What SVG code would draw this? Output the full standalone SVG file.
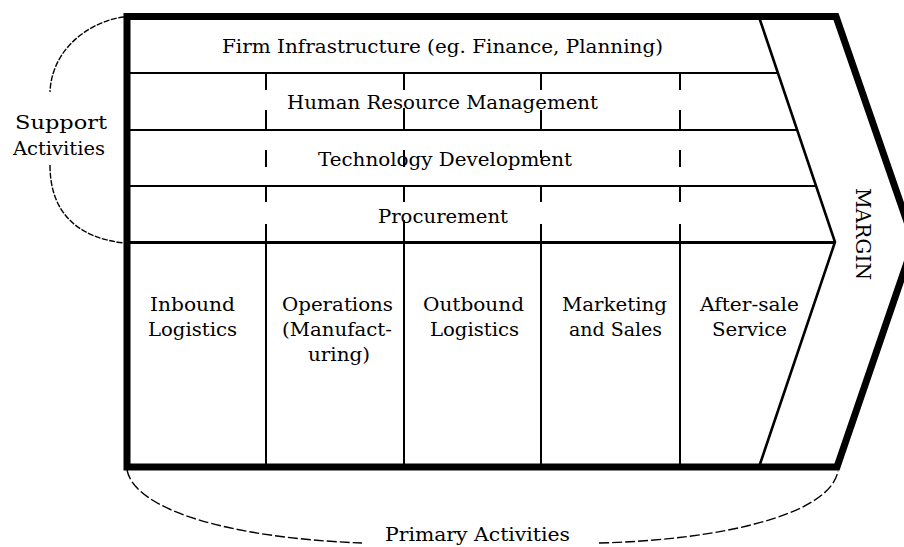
<svg xmlns="http://www.w3.org/2000/svg" width="904" height="547" viewBox="0 0 904 547">
<style>
  .t { font-family: "DejaVu Serif", "Liberation Serif", serif; font-size: 19px; fill: #000; }
  .thin { stroke: #000; stroke-width: 2; fill: none; }
  .dash { stroke: #000; stroke-width: 2; fill: none; }
  .bracket { stroke: #000; stroke-width: 1.4; fill: none; }
</style>
<rect x="0" y="0" width="904" height="547" fill="#fff"/>

<g id="support-firm-infrastructure">
  <text class="t" x="222" y="53" textLength="441" lengthAdjust="spacingAndGlyphs">Firm Infrastructure (eg. Finance, Planning)</text>
  <line class="thin" x1="127" y1="73" x2="778" y2="73"/>
</g>
<g id="support-hrm">
  <text class="t" x="287" y="109" textLength="311" lengthAdjust="spacingAndGlyphs">Human Resource Management</text>
  <line class="thin" x1="127" y1="130" x2="797" y2="130"/>
</g>
<g id="support-technology">
  <text class="t" x="318" y="166" textLength="254" lengthAdjust="spacingAndGlyphs">Technology Development</text>
  <line class="thin" x1="127" y1="186" x2="816" y2="186"/>
</g>
<g id="support-procurement">
  <text class="t" x="378" y="223" textLength="130" lengthAdjust="spacingAndGlyphs">Procurement</text>
  <line x1="127" y1="242.5" x2="835" y2="242.5" stroke="#000" stroke-width="3"/>
</g>

<g id="support-dividers">
  <path class="dash" d="M266,73V90M266,110V130M266,150V167M266,186V202M266,224V242
                        M404,73V90M404,108V130M404,150V167M404,186V202M404,220V242
                        M541,73V90M541,110V130M541,150V158M541,186V202M541,224V242
                        M680,73V90M680,110V130M680,150V167M680,186V202M680,224V242"/>
</g>

<g id="primary-inbound">
  <text class="t" x="150" y="311" textLength="85" lengthAdjust="spacingAndGlyphs">Inbound</text>
  <text class="t" x="148" y="336" textLength="89" lengthAdjust="spacingAndGlyphs">Logistics</text>
</g>
<g id="primary-operations">
  <line class="thin" x1="266" y1="242" x2="266" y2="467"/>
  <text class="t" x="282" y="311" textLength="111" lengthAdjust="spacingAndGlyphs">Operations</text>
  <text class="t" x="282" y="336" textLength="110" lengthAdjust="spacingAndGlyphs">(Manufact-</text>
  <text class="t" x="308" y="361" textLength="62" lengthAdjust="spacingAndGlyphs">uring)</text>
</g>
<g id="primary-outbound">
  <line class="thin" x1="404" y1="242" x2="404" y2="467"/>
  <text class="t" x="423" y="311" textLength="101" lengthAdjust="spacingAndGlyphs">Outbound</text>
  <text class="t" x="430" y="336" textLength="89" lengthAdjust="spacingAndGlyphs">Logistics</text>
</g>
<g id="primary-marketing">
  <line class="thin" x1="541" y1="242" x2="541" y2="467"/>
  <text class="t" x="562" y="311" textLength="105" lengthAdjust="spacingAndGlyphs">Marketing</text>
  <text class="t" x="569" y="336" textLength="93" lengthAdjust="spacingAndGlyphs">and Sales</text>
</g>
<g id="primary-service">
  <line class="thin" x1="680" y1="242" x2="680" y2="467"/>
  <text class="t" x="700" y="311" textLength="99" lengthAdjust="spacingAndGlyphs">After-sale</text>
  <text class="t" x="712" y="336" textLength="75" lengthAdjust="spacingAndGlyphs">Service</text>
</g>

<g id="margin">
  <polyline points="759,17 835,242 759,467" fill="none" stroke="#000" stroke-width="2.6"/>
  <text class="t" transform="translate(856,234) rotate(90)" x="0" y="0" text-anchor="middle" textLength="92" lengthAdjust="spacingAndGlyphs" style="font-size:20px">MARGIN</text>
</g>

<g id="frame">
  <path d="M127,16.5 H836 L914,242 L837,467 H127 Z" fill="none" stroke="#000" stroke-width="7" stroke-linejoin="miter"/>
</g>

<g id="support-activities-label">
  <text class="t" x="15" y="129" textLength="92" lengthAdjust="spacingAndGlyphs">Support</text>
  <text class="t" x="13" y="155" textLength="92" lengthAdjust="spacingAndGlyphs">Activities</text>
</g>
<g id="primary-activities-label">
  <text class="t" x="385" y="541" textLength="185" lengthAdjust="spacingAndGlyphs">Primary Activities</text>
</g>

<g id="connectors">
  <path class="bracket" stroke-dasharray="6 1.5" d="M124,17 C95,20 52,45 50,92"/>
  <path class="bracket" stroke-dasharray="6 1.5" d="M50,165 C50,215 80,238 124,243"/>
  <path class="bracket" stroke-dasharray="10 3" d="M127,470 C135,510 230,538 362,543"/>
  <path class="bracket" stroke-dasharray="10 3" d="M599,543 C720,540 830,515 838,471"/>
</g>
</svg>
